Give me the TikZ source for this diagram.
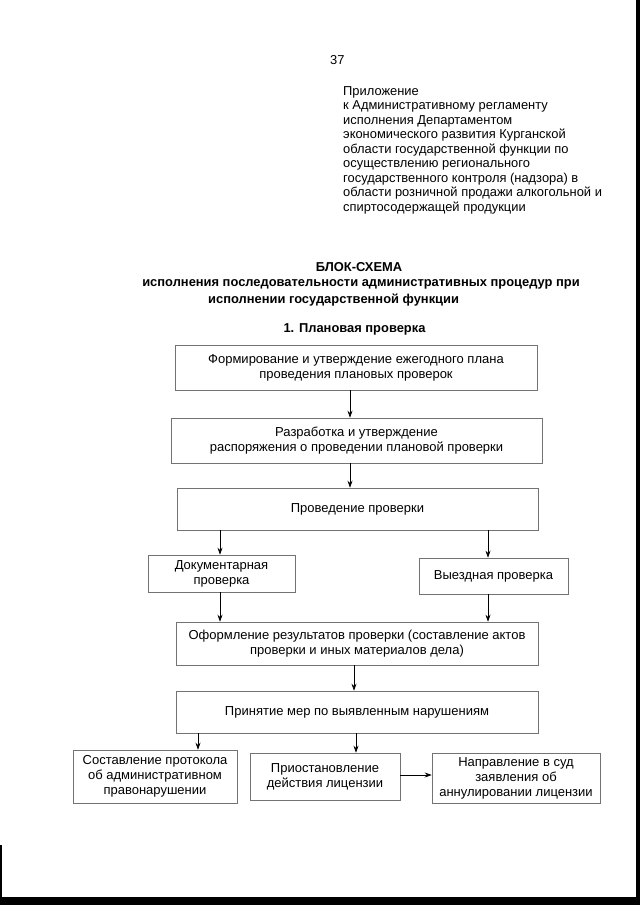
\documentclass[tikz,border=0pt]{standalone}
\usepackage{fontspec}
\setmainfont{Liberation Sans}
\usetikzlibrary{arrows.meta}
\tikzset{
  box/.style={draw=black!55, line width=0.6pt, align=center, inner sep=0pt,
    font=\fontsize{13}{15}\selectfont},
  arr/.style={-{Stealth[length=7pt,width=5pt]}, line width=0.75pt, black},
  plain/.style={inner sep=0pt, font=\fontsize{12.9}{14.5}\selectfont},
  ttl/.style={inner sep=0pt, font=\fontsize{12.9}{14.5}\selectfont\bfseries}
}
\begin{document}
\begin{tikzpicture}[x=1pt,y=-1pt]
\useasboundingbox (0,0) rectangle (640,905);
% scan borders
\fill[black] (636,0) rectangle (640,905);
\fill[black] (0,897) rectangle (640,905);
\fill[black] (0,845) rectangle (2,905);
% header
\node[plain, anchor=west] (pg) at (330,60) {37};
\node[plain, anchor=north west, align=left] (hdr) at (343,86) {Приложение\\
к Административному регламенту\\
исполнения Департаментом\\
экономического развития Курганской\\
области государственной функции по\\
осуществлению регионального\\
государственного контроля (надзора) в\\
области розничной продажи алкогольной и\\
спиртосодержащей продукции};
% title
\node[ttl] (t1) at (359,267) {БЛОК-СХЕМА};
\node[ttl] (t2) at (361,284) {исполнения последовательности административных процедур при};
\node[ttl, anchor=west] (t3) at (208,300) {исполнении государственной функции};
\node[ttl] (t4) at (354.5,329) {1. Плановая проверка};
% boxes
\node[box, minimum width=362, minimum height=45] (b1) at (356,367.5)
  {Формирование и утверждение ежегодного плана\\проведения плановых проверок};
\node[box, minimum width=371, minimum height=45] (b2) at (356.5,440.5)
  {Разработка и утверждение\\распоряжения о проведении плановой проверки};
\node[box, minimum width=361, minimum height=42] (b3) at (357.5,509)
  {Проведение проверки};
\node[box, minimum width=147, minimum height=37] (b4) at (221.5,573.5)
  {Документарная\\проверка};
\node[box, minimum width=149, minimum height=36] (b5) at (493.5,576)
  {Выездная проверка};
\node[box, minimum width=362, minimum height=43] (b6) at (357,643.5)
  {Оформление результатов проверки (составление актов\\проверки и иных материалов дела)};
\node[box, minimum width=362, minimum height=42] (b7) at (357,712)
  {Принятие мер по выявленным нарушениям};
\node[box, minimum width=164, minimum height=53] (b8) at (155,776.5)
  {Составление протокола\\об административном\\правонарушении};
\node[box, minimum width=150, minimum height=47] (b9) at (325,776.5)
  {Приостановление\\действия лицензии};
\node[box, minimum width=168, minimum height=50] (b10) at (516,778)
  {Направление в суд\\заявления об\\аннулировании лицензии};
% arrow columns
\coordinate (cA) at (350,0);
\coordinate (cL) at (220,0);
\coordinate (cR) at (488,0);
\coordinate (cM) at (354,0);
\coordinate (cP) at (198,0);
\coordinate (cQ) at (356,0);
\coordinate (rH) at (0,775);
% connectors
\draw[arr] (b1.south -| cA) -- (b2.north -| cA);
\draw[arr] (b2.south -| cA) -- (b3.north -| cA);
\draw[arr] (b3.south -| cL) -- (b4.north -| cL);
\draw[arr] (b3.south -| cR) -- (b5.north -| cR);
\draw[arr] (b4.south -| cL) -- (b6.north -| cL);
\draw[arr] (b5.south -| cR) -- (b6.north -| cR);
\draw[arr] (b6.south -| cM) -- (b7.north -| cM);
\draw[arr] (b7.south -| cP) -- (b8.north -| cP);
\draw[arr] (b7.south -| cQ) -- (b9.north -| cQ);
\draw[arr] (b9.east |- rH) -- (b10.west |- rH);
\end{tikzpicture}
\end{document}
